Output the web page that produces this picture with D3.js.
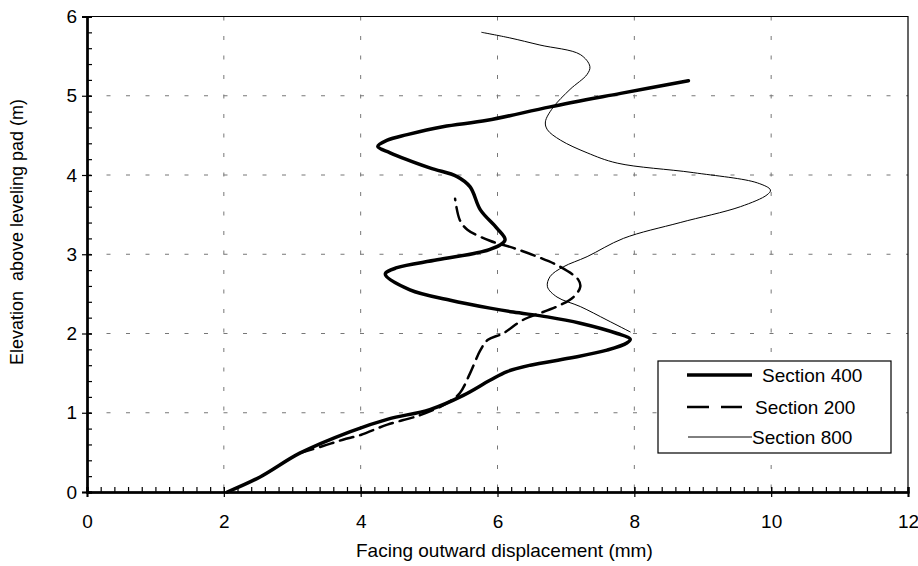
<!DOCTYPE html>
<html>
<head>
<meta charset="utf-8">
<script src="https://cdn.jsdelivr.net/npm/d3@7"></script>
<style>
  body { margin: 0; background: #fff; }
  text { font-family: "Liberation Sans", Arial, sans-serif; fill: #000; }
</style>
</head>
<body>
<div id="chart-area"></div>
<script>
// data: [displacement (mm), elevation (m)]
const section400 = [
  [2.05, 0], [2.53, 0.19], [3.11, 0.49], [3.84, 0.76], [4.4, 0.92], [5.01, 1.04],
  [5.5, 1.22], [5.89, 1.41], [6.14, 1.52], [6.48, 1.6], [7.06, 1.69], [7.6, 1.79],
  [7.89, 1.88], [7.94, 1.93], [7.75, 2.0], [7.21, 2.13], [6.73, 2.21], [6.23, 2.27],
  [5.89, 2.32], [5.31, 2.42], [4.72, 2.55], [4.36, 2.75], [4.53, 2.83], [5.12, 2.93],
  [5.89, 3.06], [6.11, 3.18], [5.99, 3.33], [5.75, 3.56], [5.6, 3.85], [5.41, 3.98],
  [5.01, 4.09], [4.43, 4.28], [4.25, 4.36], [4.39, 4.44], [4.68, 4.51], [5.2, 4.61],
  [5.85, 4.69], [6.77, 4.86], [7.8, 5.03], [8.79, 5.19]
]
const section200 = [
  [3.11, 0.49], [3.45, 0.58], [3.74, 0.66], [4.0, 0.72], [4.39, 0.85], [4.87, 0.97],
  [5.26, 1.12], [5.45, 1.25], [5.6, 1.5], [5.75, 1.79], [5.86, 1.92], [6.08, 2.0],
  [6.37, 2.17], [6.87, 2.34], [7.11, 2.46], [7.21, 2.59], [7.18, 2.68], [6.92, 2.84],
  [6.58, 2.97], [6.23, 3.08], [5.89, 3.17], [5.56, 3.31], [5.45, 3.43], [5.38, 3.7]
]
const section800 = [
  [7.94, 2.02], [7.6, 2.17], [7.21, 2.34], [6.87, 2.46], [6.73, 2.59], [6.77, 2.72],
  [6.96, 2.84], [7.31, 2.97], [7.84, 3.2], [8.67, 3.4], [9.55, 3.6], [9.94, 3.75],
  [9.99, 3.81], [9.8, 3.9], [8.86, 4.03], [7.75, 4.15], [7.31, 4.28], [6.92, 4.44],
  [6.73, 4.57], [6.7, 4.67], [6.81, 4.85], [7.06, 5.08], [7.31, 5.27], [7.35, 5.37],
  [7.21, 5.52], [6.62, 5.64], [6.18, 5.73], [5.77, 5.8]
]
const seriesNames = ["Section 400", "Section 200", "Section 800"]
const xTicks = [0, 2, 4, 6, 8, 10, 12]
const yTicks = [0, 1, 2, 3, 4, 5, 6]

const MARGIN = { LEFT: 87, RIGHT: 10, TOP: 16.5, BOTTOM: 74 }
const WIDTH = 918 - MARGIN.LEFT - MARGIN.RIGHT
const HEIGHT = 566 - MARGIN.TOP - MARGIN.BOTTOM

const svg = d3.select("#chart-area").append("svg")
    .attr("width", 918)
    .attr("height", 566)

svg.append("rect")
    .attr("width", 918)
    .attr("height", 566)
    .attr("fill", "#fff")

const g = svg.append("g")
    .attr("transform", `translate(${MARGIN.LEFT}, ${MARGIN.TOP})`)

// scales
const x = d3.scaleLinear().domain([0, 12]).range([0, WIDTH])
const y = d3.scaleLinear().domain([0, 6]).range([HEIGHT, 0])

// gridlines
g.append("g").selectAll("line")
    .data(xTicks.slice(1, -1))
    .join("line")
    .attr("x1", d => x(d)).attr("x2", d => x(d))
    .attr("y1", 0).attr("y2", HEIGHT)
    .attr("stroke", "#777")
    .attr("stroke-dasharray", "4,15.5")
g.append("g").selectAll("line")
    .data(yTicks.slice(1, -1))
    .join("line")
    .attr("y1", d => y(d)).attr("y2", d => y(d))
    .attr("x1", 0).attr("x2", WIDTH)
    .attr("stroke", "#777")
    .attr("stroke-dasharray", "4,15.5")

// box top / right
g.append("path")
    .attr("d", `M0,0H${WIDTH}V${HEIGHT}`)
    .attr("fill", "none")
    .attr("stroke", "#000")
    .attr("stroke-width", 1.2)

// minor ticks
const minorX = d3.range(0, 12.01, 0.2)
const minorY = d3.range(0, 6.01, 0.2)
g.append("g")
    .attr("transform", `translate(0, ${HEIGHT})`)
    .call(d3.axisBottom(x).tickValues(minorX).tickSize(-5).tickFormat(""))
g.append("g")
    .call(d3.axisLeft(y).tickValues(minorY).tickSize(-5).tickFormat(""))

// major ticks crossing the axes
g.append("g")
    .attr("transform", `translate(0, ${HEIGHT})`)
    .call(d3.axisBottom(x).tickValues(xTicks).tickSize(-5).tickFormat(""))
const xAxis = g.append("g")
    .attr("transform", `translate(0, ${HEIGHT})`)
    .call(d3.axisBottom(x).tickValues(xTicks).tickSize(5).tickFormat(d3.format("d")))
g.append("g")
    .call(d3.axisLeft(y).tickValues(yTicks).tickSize(-5).tickFormat(""))
const yAxis = g.append("g")
    .call(d3.axisLeft(y).tickValues(yTicks).tickSize(5).tickPadding(5).tickFormat(d3.format("d")))

g.selectAll(".domain").attr("stroke", "#000").attr("stroke-width", 2)
g.selectAll(".tick line").attr("stroke", "#000").attr("stroke-width", 1.2)
xAxis.selectAll("text").attr("font-size", "19px").attr("font-family", "Liberation Sans, Arial")
    .attr("dy", "0").attr("y", 36)
yAxis.selectAll("text").attr("font-size", "19px").attr("font-family", "Liberation Sans, Arial")

// axis labels
svg.append("text")
    .attr("x", 356)
    .attr("y", 557)
    .attr("font-size", "19px")
    .text("Facing outward displacement (mm)")
svg.append("text")
    .attr("transform", "rotate(-90)")
    .attr("x", -232)
    .attr("y", 23)
    .attr("font-size", "18px")
    .attr("text-anchor", "middle")
    .style("white-space", "pre")
    .text("Elevation  above leveling pad (m)")

// lines
const line = d3.line()
    .x(d => x(d[0]))
    .y(d => y(d[1]))
    .curve(d3.curveCatmullRom.alpha(0.5))

const styles = [
    { width: 3.5, dash: null },
    { width: 2.5, dash: "14,7" },
    { width: 1, dash: null }
]
const allSeries = [section400, section200, section800]

g.selectAll(".series")
    .data(allSeries)
    .join("path")
    .attr("class", "series")
    .attr("fill", "none")
    .attr("stroke", "#000")
    .attr("stroke-linecap", "round")
    .attr("stroke-linejoin", "round")
    .attr("stroke-width", (d, i) => styles[i].width)
    .attr("stroke-dasharray", (d, i) => styles[i].dash)
    .attr("d", line)

// legend
const legend = svg.append("g")
legend.append("rect")
    .attr("x", 658)
    .attr("y", 361)
    .attr("width", 233)
    .attr("height", 92)
    .attr("fill", "#fff")
    .attr("stroke", "#000")
    .attr("stroke-width", 1.2)

const legendRows = [
    { y: 375, x1: 687, x2: 752, tx: 762, dash: null },
    { y: 407, x1: 687, x2: 742, tx: 755, dash: "22,12" },
    { y: 437, x1: 688, x2: 752, tx: 752, dash: null }
]
legendRows.forEach((r, i) => {
    legend.append("line")
        .attr("x1", r.x1).attr("x2", r.x2)
        .attr("y1", r.y).attr("y2", r.y)
        .attr("stroke", "#000")
        .attr("stroke-width", styles[i].width)
        .attr("stroke-dasharray", r.dash)
    legend.append("text")
        .attr("x", r.tx)
        .attr("y", r.y + 7)
        .attr("font-size", "19px")
        .text(seriesNames[i])
})
</script>
</body>
</html>
